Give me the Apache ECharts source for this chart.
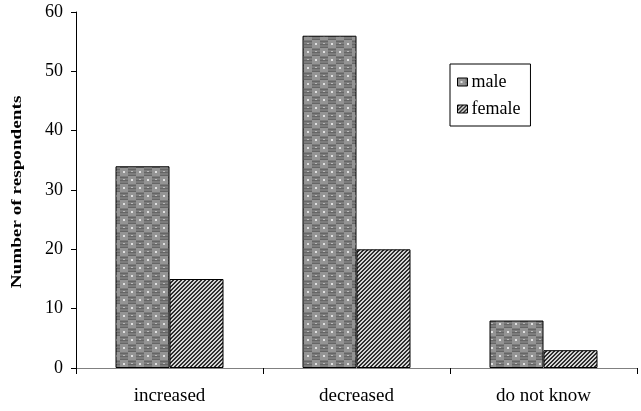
<!DOCTYPE html>
<html>
<head>
<meta charset="utf-8">
<script src="https://cdn.jsdelivr.net/npm/echarts@6/dist/echarts.min.js"></script>
<style>
html,body{margin:0;padding:0;background:#fff;}
#chart{width:641px;height:411px;}
</style>
</head>
<body>
<div id="chart"></div>
<script>
// Survey answers by gender
var categories = ['increased', 'decreased', 'do not know'];
var maleValues = [34, 56, 8];
var femaleValues = [15, 20, 3];
var yTicks = [0, 10, 20, 30, 40, 50, 60];
var yTitle = 'Number of respondents';

// Grey woven fill for the "male" bars
function wovenTile() {
  var c = document.createElement('canvas');
  c.width = 16; c.height = 16;
  var g = c.getContext('2d');
  g.fillStyle = '#7c7c7c';
  g.fillRect(0, 0, 16, 16);
  g.fillStyle = '#949494';
  g.fillRect(0, 0, 8, 8);
  g.fillRect(8, 8, 8, 8);
  g.fillStyle = '#666666';
  for (var y = 1; y < 8; y += 3) { g.fillRect(8, y, 8, 1); g.fillRect(0, y + 8, 8, 1); }
  g.fillStyle = '#e0e0e0';
  g.fillRect(3, 3, 2, 2);
  g.fillRect(11, 11, 2, 2);
  g.fillStyle = '#b8b8b8';
  g.fillRect(11, 3, 2, 1);
  g.fillRect(3, 11, 2, 1);
  return c;
}

// Diagonal hatch fill for the "female" bars
function hatchTile() {
  var c = document.createElement('canvas');
  c.width = 4; c.height = 4;
  var g = c.getContext('2d');
  for (var x = 0; x < 4; x++) {
    for (var y = 0; y < 4; y++) {
      g.fillStyle = ((x + y) % 4 < 2) ? '#2e2e2e' : '#d4d4d4';
      g.fillRect(x, y, 1, 1);
    }
  }
  return c;
}

var maleFill = { image: wovenTile(), repeat: 'repeat' };
var femaleFill = { image: hatchTile(), repeat: 'repeat' };

var chart = echarts.init(document.getElementById('chart'), null, { renderer: 'canvas' });
chart.setOption({
  animation: false,
  backgroundColor: '#ffffff',
  grid: { left: 76, right: 4, top: 12, bottom: 43, containLabel: false },
  legend: {
    orient: 'vertical',
    left: 450, top: 64,
    itemWidth: 10, itemHeight: 8,
    itemGap: 9,
    padding: [9, 10, 8, 7],
    icon: 'rect',
    borderColor: '#000', borderWidth: 1,
    textStyle: { fontFamily: 'Liberation Serif', fontSize: 18, color: '#000', padding: [0, 0, 0, -1] },
    data: [
      { name: 'male', itemStyle: { color: maleFill, borderColor: '#000', borderWidth: 1 } },
      { name: 'female', itemStyle: { color: femaleFill, borderColor: '#000', borderWidth: 1 } }
    ]
  },
  graphic: [{
    type: 'text',
    x: 17, y: 192,
    rotation: Math.PI / 2,
    scaleX: 1.28,
    style: {
      text: yTitle,
      fontFamily: 'Liberation Serif', fontSize: 15, fontWeight: 'bold', fill: '#000',
      align: 'center', verticalAlign: 'middle'
    }
  }],
  xAxis: {
    type: 'category',
    data: categories,
    axisLine: { lineStyle: { color: '#808080', width: 1 } },
    axisTick: { show: true, alignWithLabel: false, length: 6, lineStyle: { color: '#000' } },
    axisLabel: { fontFamily: 'Liberation Serif', fontSize: 19, color: '#000', margin: 19 }
  },
  yAxis: {
    type: 'value',
    min: 0, max: 60, interval: 10,
    axisLine: { show: true, lineStyle: { color: '#000', width: 1 } },
    axisTick: { show: true, length: 5, lineStyle: { color: '#000' } },
    axisLabel: {
      fontFamily: 'Liberation Serif', fontSize: 18, color: '#000', margin: 13,
      formatter: function (v) { return yTicks.indexOf(v) >= 0 ? String(v) : ''; }
    },
    splitLine: { show: false }
  },
  series: [
    {
      name: 'male', type: 'bar', data: maleValues,
      barWidth: 54, barGap: '0%',
      itemStyle: { color: maleFill, borderColor: '#000', borderWidth: 1 }
    },
    {
      name: 'female', type: 'bar', data: femaleValues,
      barWidth: 54, barGap: '0%',
      itemStyle: { color: femaleFill, borderColor: '#000', borderWidth: 1 }
    }
  ]
});
</script>
</body>
</html>
